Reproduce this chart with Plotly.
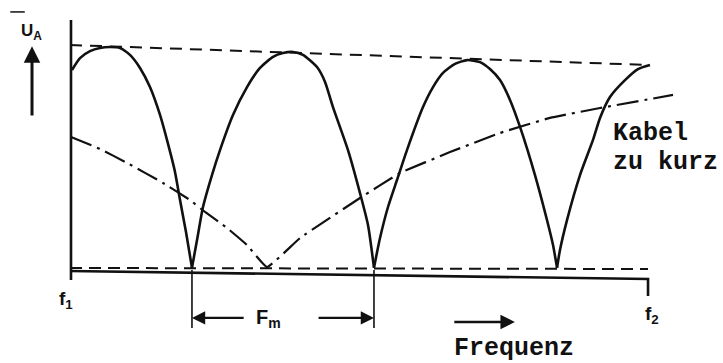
import plotly.graph_objects as go

# ---- data (frequency: f1 = 0 ... f2 = 100, amplitude u: baseline = 0) ----
arch1_f = [0.34, 1.72, 3.45, 5.17, 6.90, 8.62, 10.34, 12.07, 13.79, 15.52, 16.72, 18.10, 18.97, 20.0, 21.03]
arch1_u = [88.9, 94.2, 97.3, 98.7, 99.1, 98.7, 95.6, 89.8, 81.3, 68.9, 57.8, 43.6, 31.1, 16.9, 1.0]

arch2_f = [21.03, 21.90, 22.93, 24.48, 25.86, 28.10, 30.52, 32.76, 35.0, 36.72, 38.45, 40.17, 42.59, 43.97, 45.34, 47.93, 50.0, 51.38, 52.41]
arch2_u = [1.0, 13.3, 28.0, 42.2, 53.3, 68.9, 81.3, 89.8, 94.7, 96.4, 96.9, 95.6, 90.2, 83.6, 72.4, 53.3, 34.2, 20.0, 1.0]

arch3_f = [52.41, 53.45, 54.83, 56.38, 58.10, 60.86, 62.59, 64.31, 66.38, 68.45, 70.69, 72.41, 74.14, 75.86, 77.59, 80.17, 82.24, 83.28, 83.97]
arch3_u = [1.0, 14.2, 28.0, 40.0, 53.3, 72.4, 81.3, 87.6, 91.6, 93.3, 92.4, 89.3, 84.4, 75.6, 63.6, 42.2, 22.2, 11.1, 1.0]

arch4_f = [83.97, 84.48, 85.69, 87.93, 90.17, 91.38, 93.10, 95.69, 97.93, 100.0]
arch4_u = [1.0, 8.9, 22.2, 42.2, 57.8, 67.6, 76.9, 84.4, 89.3, 91.1]

short_f = [0.17, 5.17, 9.83, 16.03, 20.69, 23.28, 27.07, 30.52, 33.97, 39.66, 50.0, 56.90, 65.52, 74.14, 82.76, 91.38, 103.97]
short_u = [59.1, 53.8, 47.6, 38.7, 31.1, 25.8, 18.7, 11.1, 1.3, 14.2, 32.0, 43.1, 52.4, 60.9, 67.6, 72.0, 77.8]

env_top_f = [0.0, 100.0]
env_top_u = [100.0, 91.1]
env_bot_f = [0.0, 99.66]
env_bot_u = [0.9, 0.44]

axis_x_f = [0.0, 52.0, 99.66, 99.66]
axis_x_u = [-0.44, -2.2, -4.0, -11.6]
axis_y_f = [0.17, 0.17]
axis_y_u = [111.1, -4.4]

null_f = [21.03, 52.41]          # minima delimiting F_m
fm_u = -21.3

labels = {"f1": "f<sub>1</sub>", "f2": "f<sub>2</sub>", "Fm": "F<sub>m</sub>",
          "UA": "U<sub>A</sub>", "freq": "Frequenz", "kabel1": "Kabel", "kabel2": "zu kurz"}

INK = "#111111"
MONO = "Liberation Mono, Courier New, monospace"
SANS = "Liberation Sans, Arial, sans-serif"

fig = go.Figure()

for fx, uy in [(arch1_f, arch1_u), (arch2_f, arch2_u), (arch3_f, arch3_u), (arch4_f, arch4_u)]:
    fig.add_trace(go.Scatter(x=fx, y=uy, mode="lines",
                             line=dict(color=INK, width=2.6, shape="spline", smoothing=0.6),
                             hoverinfo="skip", showlegend=False))

fig.add_trace(go.Scatter(x=short_f, y=short_u, mode="lines",
                         line=dict(color=INK, width=2.2, dash="22px,6px,3px,6px", shape="spline", smoothing=0.3),
                         hoverinfo="skip", showlegend=False))

fig.add_trace(go.Scatter(x=env_top_f, y=env_top_u, mode="lines",
                         line=dict(color=INK, width=2, dash="12px,8px"), hoverinfo="skip", showlegend=False))
fig.add_trace(go.Scatter(x=env_bot_f, y=env_bot_u, mode="lines",
                         line=dict(color=INK, width=2, dash="12px,7px"), hoverinfo="skip", showlegend=False))

fig.add_trace(go.Scatter(x=axis_x_f, y=axis_x_u, mode="lines",
                         line=dict(color=INK, width=2.6), hoverinfo="skip", showlegend=False))
fig.add_trace(go.Scatter(x=axis_y_f, y=axis_y_u, mode="lines",
                         line=dict(color=INK, width=2.6), hoverinfo="skip", showlegend=False))

# vertical markers at the minima
for nf in null_f:
    fig.add_trace(go.Scatter(x=[nf, nf], y=[0, -25.8], mode="lines",
                             line=dict(color=INK, width=1.6), hoverinfo="skip", showlegend=False))

# F_m arrows
fig.add_annotation(x=null_f[0], y=fm_u, ax=30.2, ay=fm_u, xref="x", yref="y", axref="x", ayref="y",
                   showarrow=True, arrowhead=2, arrowsize=1.2, arrowwidth=2.2, arrowcolor=INK, text="")
fig.add_annotation(x=null_f[1], y=fm_u, ax=42.6, ay=fm_u, xref="x", yref="y", axref="x", ayref="y",
                   showarrow=True, arrowhead=2, arrowsize=1.2, arrowwidth=2.2, arrowcolor=INK, text="")
# frequency arrow
fig.add_annotation(x=76.7, y=-23.1, ax=66.0, ay=-23.1, xref="x", yref="y", axref="x", ayref="y",
                   showarrow=True, arrowhead=2, arrowsize=1.2, arrowwidth=2.4, arrowcolor=INK, text="")
# U_A arrow
fig.add_annotation(x=-6.55, y=99.5, ax=-6.55, ay=68.0, xref="x", yref="y", axref="x", ayref="y",
                   showarrow=True, arrowhead=2, arrowsize=1.1, arrowwidth=3, arrowcolor=INK, text="")

def label(txt, x, y, font, size, anchor="center", bold=False):
    fig.add_annotation(x=x, y=y, xref="x", yref="y", text=("<b>%s</b>" % txt) if bold else txt,
                       showarrow=False, xanchor=anchor, yanchor="middle",
                       font=dict(family=font, size=size, color=INK), align="left")

label(labels["UA"], -6.6, 106.0, SANS, 17, bold=True)
fig.add_shape(type="line", x0=-10.3, x1=-7.8, y0=114.7, y1=114.7, xref="x", yref="y",
              line=dict(color=INK, width=1.5))
label(labels["f1"], -0.7, -13.3, SANS, 19, bold=True)
label(labels["f2"], 100.3, -20.0, SANS, 19, bold=True)
label(labels["Fm"], 34.2, -21.5, SANS, 20, bold=True)
label(labels["freq"], 76.47, -35.1, MONO, 25, bold=True)
label(labels["kabel1"], 93.2, 60.7, MONO, 25, anchor="left", bold=True)
label(labels["kabel2"], 93.2, 47.6, MONO, 25, anchor="left", bold=True)

fig.update_layout(
    width=723, height=363,
    margin=dict(l=0, r=0, t=0, b=0),
    paper_bgcolor="white", plot_bgcolor="white",
    xaxis=dict(range=[-12.069, 112.586], visible=False, fixedrange=True),
    yaxis=dict(range=[-41.33, 120.0], visible=False, fixedrange=True),
    showlegend=False,
)

fig.write_html("out.html", config={"displayModeBar": False},
               post_script="document.body.style.margin='0px';document.body.style.overflow='hidden';")
